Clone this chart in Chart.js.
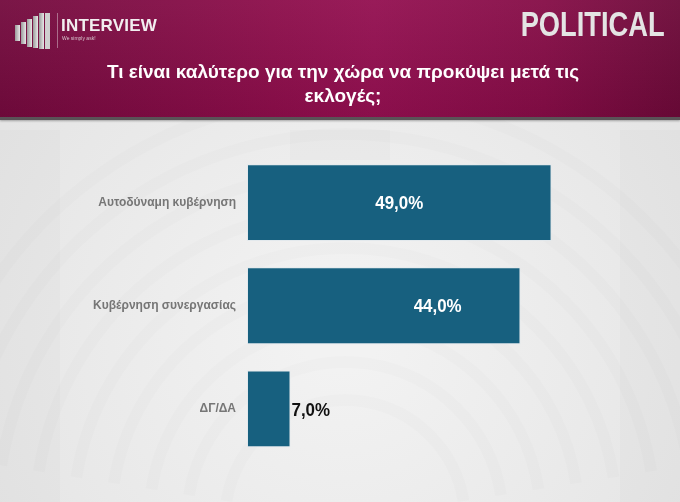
<!DOCTYPE html>
<html>
<head>
<meta charset="utf-8">
<script src="https://cdn.jsdelivr.net/npm/chart.js@4.4.0/dist/chart.umd.min.js"></script>
<style>
  html, body { margin:0; padding:0; width:680px; height:502px; overflow:hidden; }
  body { position:relative; background:#e9e9e9; font-family:"Liberation Sans", Arial, sans-serif; }
  #bg { position:absolute; left:0; top:0; }
  #header { position:absolute; left:0; top:0; width:680px; height:117px;
    background: linear-gradient(90deg, #730a3d 0%, #8c0d4a 40%, #930f50 55%, #850c46 80%, #6c0938 100%);
    border-bottom:3px solid #5a5357; box-shadow:0 1px 2px rgba(0,0,0,0.3); }
  #header:after { content:""; position:absolute; left:0; top:0; right:0; bottom:0;
    background: linear-gradient(180deg, rgba(255,255,255,0.05), rgba(0,0,0,0.06)); }
  #logoLine { position:absolute; left:57px; top:13px; width:1px; height:35px; background:rgba(220,200,210,0.5); z-index:2; }
  #logoText { position:absolute; left:61px; top:16px; color:#f2eef0; font-weight:bold; font-size:17px; letter-spacing:0.2px; z-index:2; }
  #tag { position:absolute; left:62px; top:35px; color:#d9c8d0; font-size:5px; z-index:2; }
  #political { position:absolute; right:15px; top:4px; color:#e4e4e4; font-weight:bold; font-size:35px;
    z-index:2; transform: scaleX(0.78); transform-origin: right top; }
  #title { position:absolute; left:0; width:686px; top:60px; text-align:center; color:#ffffff; font-weight:bold;
    font-size:19px; line-height:24px; z-index:2; }
  #chart { position:absolute; left:0; top:0; z-index:3; }
</style>
</head>
<body>
<canvas id="bg" width="680" height="502"></canvas>
<div id="header"></div>
<canvas id="logo" width="50" height="50" style="position:absolute;left:10px;top:5px;z-index:2"></canvas>
<div id="logoLine"></div>
<div id="logoText">INTERVIEW</div>
<div id="tag">We simply ask!</div>
<div id="political">POLITICAL</div>
<div id="title">Τι είναι καλύτερο για την χώρα να προκύψει μετά τις<br>εκλογές;</div>
<canvas id="chart" width="680" height="502"></canvas>
<script>
const categories = ["Αυτοδύναμη κυβέρνηση", "Κυβέρνηση συνεργασίας", "ΔΓ/ΔΑ"];
const values = [49.0, 44.0, 7.0];
const valueLabels = ["49,0%", "44,0%", "7,0%"];

// background: faint parliament-like arcs
(function(){
  const c = document.getElementById('bg').getContext('2d');
  const g = c.createRadialGradient(340, 330, 40, 340, 330, 420);
  g.addColorStop(0, '#f2f2f2');
  g.addColorStop(1, '#e4e4e4');
  c.fillStyle = g; c.fillRect(0, 0, 680, 502);
  c.strokeStyle = 'rgba(0,0,0,0.013)';
  for (let r = 120; r < 460; r += 38) {
    c.lineWidth = 12;
    c.beginPath(); c.arc(345, 520, r, Math.PI*1.05, Math.PI*1.95); c.stroke();
  }
  c.fillStyle = 'rgba(0,0,0,0.014)';
  c.fillRect(290, 130, 100, 30);
  c.fillRect(0, 130, 60, 372);
  c.fillRect(620, 130, 60, 372);
})();

// logo bars
(function(){
  const c = document.getElementById('logo').getContext('2d');
  const bars = [[5,20,16],[11,17,22],[17,14,28],[23,11,32],[29,8,36]];
  bars.forEach(b => {
    const g = c.createLinearGradient(b[0],0,b[0]+5,0);
    g.addColorStop(0,'#9a9a9a'); g.addColorStop(1,'#e8e8e8');
    c.fillStyle = g;
    c.fillRect(b[0], b[1], 5, b[2]);
  });
  c.fillStyle = '#cfcfcf';
  c.fillRect(35, 8, 5, 36);
})();

const labelPlugin = {
  id: 'valueLabels',
  afterDatasetsDraw(chart, args, opts) {
    const ctx = chart.ctx;
    const meta = chart.getDatasetMeta(0);
    const sx = 0.94;
    meta.data.forEach((bar, i) => {
      const mode = opts.modes[i];
      const left = bar.base, right = bar.x;
      ctx.save();
      ctx.font = 'bold 18px "Liberation Sans", Arial, sans-serif';
      ctx.textBaseline = 'middle';
      let x, y;
      if (mode === 'outside') {
        ctx.fillStyle = '#111111';
        ctx.textAlign = 'left';
        x = right + 1; y = bar.y + 2;
      } else {
        ctx.fillStyle = '#ffffff';
        ctx.textAlign = 'center';
        x = left + (right - left) * mode; y = bar.y + 1;
      }
      ctx.translate(x, y);
      ctx.scale(sx, 1);
      ctx.fillText(valueLabels[i], 0, 0);
      ctx.restore();
    });
  }
};

new Chart(document.getElementById('chart'), {
  type: 'bar',
  data: {
    labels: categories,
    datasets: [{
      data: values,
      backgroundColor: '#17607f',
      borderColor: 'rgba(225,232,236,0.9)',
      borderWidth: 1,
      borderSkipped: false,
      categoryPercentage: 1.0,
      barPercentage: 0.745
    }]
  },
  options: {
    indexAxis: 'y',
    responsive: false,
    animation: false,
    devicePixelRatio: 1,
    layout: { padding: { top: 151, bottom: 41.5, right: 29, left: 0 } },
    plugins: {
      legend: { display: false },
      tooltip: { enabled: false },
      valueLabels: { modes: [0.5, 0.697, 'outside'] }
    },
    scales: {
      x: { display: false, min: 0, max: 65 },
      y: {
        grid: { display: false, drawTicks: false },
        border: { display: false },
        afterFit(scale) { scale.width = 247; },
        ticks: {
          padding: 11,
          color: '#767676',
          font: { family: '"Liberation Sans", Arial, sans-serif', size: 12, weight: 'bold' }
        }
      }
    }
  },
  plugins: [labelPlugin]
});
</script>
</body>
</html>
